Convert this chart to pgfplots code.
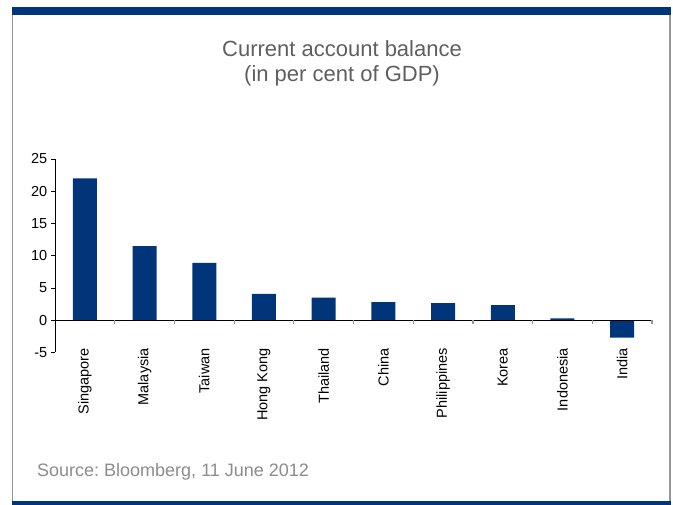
\documentclass[border=0pt]{standalone}
\usepackage{fontspec}
\setmainfont{Liberation Sans}
\usepackage{pgfplots}
\pgfplotsset{compat=1.18}
\definecolor{navy}{RGB}{0,53,122}
\definecolor{framegray}{RGB}{150,150,150}
\definecolor{titlegray}{RGB}{95,95,95}
\definecolor{srcgray}{RGB}{140,140,140}
\frenchspacing
\begin{document}
\begin{tikzpicture}[x=1pt,y=1pt]
\useasboundingbox (0,0) rectangle (673,505);
% frame
\fill[navy] (12,490) rectangle (671,497.7);
\fill[navy] (12,0) rectangle (671,4);
\draw[framegray, line width=1.2pt] (12.7,4) -- (12.7,490);
\draw[framegray, line width=1.8pt] (669.8,4) -- (669.8,490);
% title
\node[anchor=base, text=titlegray, font=\fontsize{22}{24}\selectfont, inner sep=0pt] at (342,448) {Current account balance};
\node[anchor=base, text=titlegray, font=\fontsize{22}{24}\selectfont, inner sep=0pt] at (342,423) {(in per cent of GDP)};
% source
\node[anchor=base west, text=srcgray, font=\fontsize{18}{20}\selectfont, inner sep=0pt] at (37,28) {Source: Bloomberg, 11 June 2012};
\begin{axis}[
  at={(55pt,152.5pt)}, anchor=south west,
  scale only axis, width=597pt, height=193.5pt,
  xmin=-0.5, xmax=9.5, ymin=-5, ymax=25,
  axis lines*=left,
  x axis line style={draw=none},
  y axis line style={black, line width=0.8pt},
  xtick={0,...,9},
  xticklabels={Singapore,Malaysia,Taiwan,Hong Kong,Thailand,China,Philippines,Korea,Indonesia,India},
  major x tick style={draw=none},
  xticklabel style={rotate=90, anchor=east, inner sep=0pt, xshift=8pt, font=\fontsize{14.5}{16}\selectfont},
  ytick={-5,0,5,10,15,20,25},
  tick align=outside,
  major tick length=3.5pt,
  major y tick style={black, line width=0.8pt},
  yticklabel style={font=\fontsize{14.5}{16}\selectfont, inner sep=0pt, xshift=-4pt},
  /pgf/number format/assume math mode=true,
  clip=false,
]
\addplot[ybar, bar width=24pt, fill=navy, draw=none] coordinates {
(0,22.0) (1,11.5) (2,8.9) (3,4.1) (4,3.5) (5,2.8) (6,2.65) (7,2.35) (8,0.3) (9,-2.7)};
\draw[black, line width=0.8pt] (axis cs:-0.5,0) -- (axis cs:9.5,0);
\pgfplotsinvokeforeach{0.5,1.5,2.5,3.5,4.5,5.5,6.5,7.5,8.5,9.5}{
  \draw[framegray, line width=1.2pt] (axis cs:#1,0) -- ([yshift=-4pt]axis cs:#1,0);
}
\end{axis}
\end{tikzpicture}
\end{document}
